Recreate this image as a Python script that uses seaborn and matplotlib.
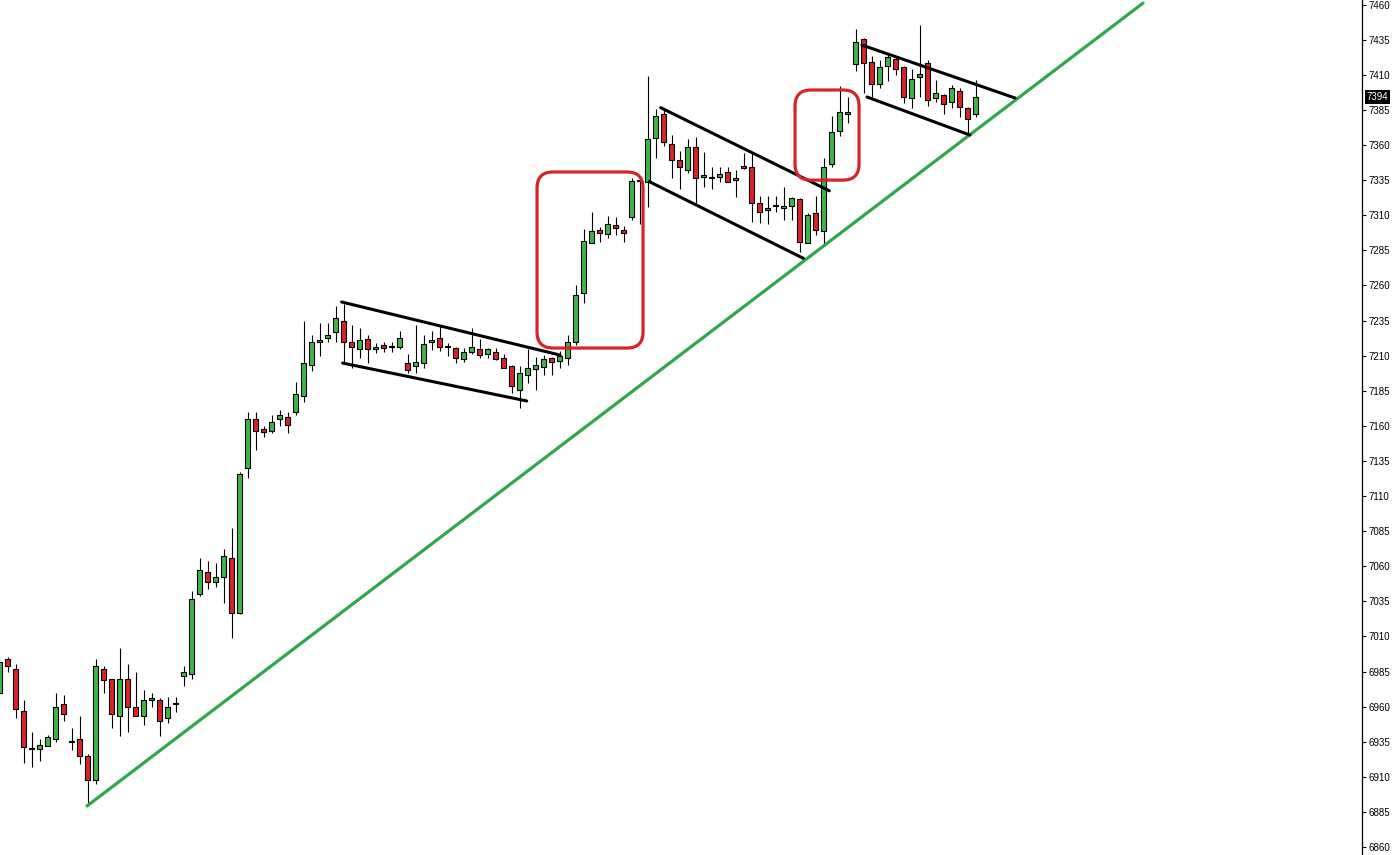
import matplotlib
matplotlib.use("Agg")
import matplotlib.pyplot as plt
import matplotlib.transforms as mtransforms
from matplotlib.patches import FancyBboxPatch
import numpy as np
import pandas as pd
import seaborn as sns

# candle data, one value per bar
opens = [
    6970, 6994, 6987, 6957, 6930, 6930, 6932, 6937, 6962, 6935,
    6937, 6925, 6908, 6987, 6980, 6953, 6980, 6960, 6953, 6965,
    6965, 6952, 6962, 6982, 6983, 7040, 7056, 7049, 7052, 7066,
    7027, 7130, 7165, 7158, 7156, 7165, 7166, 7170, 7181, 7203,
    7220, 7222.5, 7227, 7235, 7220, 7215, 7222, 7214.7, 7217.5, 7216,
    7216, 7205, 7202.6, 7205, 7219.7, 7222.5, 7216, 7215.4, 7207.6, 7212.6,
    7215, 7211, 7212.6, 7208, 7202.6, 7185.5, 7196, 7200.5, 7202, 7208.3,
    7206.2, 7208.3, 7220, 7254.6, 7290, 7299.4, 7296.6, 7302.8, 7299.4, 7308.7,
    7334.4, 7334, 7365, 7382, 7361, 7349, 7342, 7358.6, 7337, 7336.5,
    7337, 7340.8, 7335, 7345, 7344, 7318.7, 7313.7, 7316.5, 7315, 7316.5,
    7321.5, 7290.2, 7311.6, 7298.7, 7346.5, 7370, 7382, 7417.7, 7435.5, 7419,
    7403.4, 7416.3, 7421.3, 7415.6, 7393.5, 7408.4, 7418.4, 7393.5, 7395.6, 7390.6,
    7398.5, 7386.4, 7382,
]
highs = [
    6995, 6995, 6990, 6965, 6942, 6937, 6940, 6970, 6968, 6945,
    6953, 6926, 6994, 6989, 6980, 7002, 6990, 6985, 6972, 6970,
    6966, 6967, 6967, 6989, 7042, 7066, 7064, 7062, 7072, 7087,
    7127, 7170, 7170, 7160, 7168, 7171, 7170, 7191, 7235, 7225,
    7233, 7233, 7245, 7247, 7232, 7230, 7225, 7219, 7219.6, 7219.6,
    7227.5, 7211, 7232, 7225, 7227.5, 7232, 7219, 7216, 7215.4, 7230,
    7222, 7215.4, 7215.4, 7211, 7203, 7202.6, 7215, 7209, 7210.4, 7209,
    7213, 7225, 7260, 7300, 7312, 7301.6, 7309.5, 7309, 7302, 7336.5,
    7336, 7409, 7386, 7386, 7367, 7356, 7364, 7366, 7355, 7344,
    7344, 7344, 7342, 7354, 7354, 7323.7, 7323.7, 7324, 7330, 7323,
    7322, 7311.5, 7323.7, 7351, 7381, 7402, 7394, 7443, 7436, 7423.4,
    7420.5, 7425.5, 7423, 7416, 7414, 7445.5, 7420.5, 7406, 7396, 7402.7,
    7400.6, 7387, 7406,
]
lows = [
    6968, 6985, 6952, 6920, 6917, 6921, 6932, 6935, 6950, 6929,
    6919, 6889, 6905, 6970, 6945, 6939, 6942, 6953, 6947, 6960,
    6939, 6948, 6956, 6975, 6980, 7039, 7044, 7045, 7034, 7009,
    7026, 7123, 7143, 7152, 7155, 7160, 7155, 7168, 7177, 7199,
    7210, 7220, 7220, 7204, 7201, 7208, 7205, 7212, 7212.6, 7212.6,
    7214.7, 7197.6, 7197.6, 7201, 7214, 7213, 7209.7, 7205, 7205.4, 7211,
    7208, 7208.3, 7207, 7201, 7183.4, 7172.7, 7190.5, 7185.5, 7196, 7196,
    7201, 7203, 7217.5, 7247.5, 7290, 7291, 7293.8, 7296, 7291, 7306.6,
    7304, 7316, 7351, 7359, 7336.5, 7329, 7340, 7318.7, 7330, 7329,
    7334, 7333.7, 7323, 7343, 7305, 7304.4, 7303.7, 7312, 7306.6, 7306.6,
    7284, 7290, 7296, 7288.8, 7344.3, 7366.4, 7375.6, 7412.7, 7397, 7394,
    7400.6, 7405.5, 7410, 7390, 7386.4, 7394, 7387.8, 7390.6, 7382, 7386.4,
    7380, 7368.6, 7380,
]
closes = [
    6992, 6989, 6958, 6931, 6930.5, 6933, 6938, 6960, 6955, 6935.5,
    6925, 6908, 6989, 6979, 6955, 6980, 6960, 6953, 6965, 6965,
    6950, 6960, 6962, 6985, 7037, 7057, 7049, 7052, 7067, 7027,
    7126, 7165, 7156, 7155.5, 7163, 7168, 7160.5, 7183, 7205, 7220,
    7220.5, 7225, 7237, 7220, 7216, 7221, 7215, 7216, 7215.4, 7216,
    7222.5, 7200, 7205.4, 7218, 7221, 7216, 7216, 7208.3, 7212.6, 7216,
    7210.4, 7214.7, 7207.6, 7201, 7188.4, 7197.6, 7201, 7203.3, 7207.6, 7205.4,
    7209.7, 7219.7, 7253, 7291.6, 7298.7, 7297.3, 7303.7, 7300.7, 7297.3, 7334.4,
    7335, 7364, 7381, 7362, 7349, 7344, 7358.6, 7336.5, 7338.6, 7336.5,
    7339.4, 7333.7, 7336.5, 7343.6, 7319, 7312.3, 7315, 7316.5, 7316.5, 7322.3,
    7291, 7310, 7299.4, 7344.3, 7369.3, 7383.5, 7383.5, 7433.3, 7418.4, 7403.4,
    7415.6, 7422.7, 7414.2, 7394, 7407, 7410.5, 7392, 7397, 7389, 7400.6,
    7387, 7378.6, 7394,
]

# hand-drawn annotations: (bar index, price) end points
trend_x = [10.94, 142.94]
trend_y = [6889.2, 7461.1]
channel_x = [
    [42.77, 70.06], [42.90, 65.90],
    [82.65, 103.73], [81.23, 100.48],
    [107.81, 126.94], [108.44, 121.31],
]
channel_y = [
    [7248.2, 7210.4], [7204.7, 7177.7],
    [7386.6, 7327.4], [7333.9, 7279.3],
    [7431.2, 7393.5], [7394.2, 7367.1],
]
# highlight boxes: (left bar, right bar, low price, high price)
box_left = [67.19, 99.44]
box_right = [80.44, 107.44]
box_low = [7215.4, 7335.0]
box_high = [7340.8, 7399.2]

price_ticks = list(range(6860, 7461, 25))

GREEN = "#3fb549"
RED = "#d8232a"

df = pd.DataFrame({"open": opens, "high": highs, "low": lows, "close": closes})
df["idx"] = np.arange(len(df))
df["up"] = df["close"] >= df["open"]

sns.set_style("white")
plt.rcParams["font.family"] = ["Liberation Sans", "DejaVu Sans"]

fig = plt.figure(figsize=(13.97, 8.55), dpi=100)
ax = fig.add_axes([0, 0, 1362 / 1397, 1])

# wicks
ax.vlines(df["idx"], df["low"], df["high"], color="black", linewidth=0.8, zorder=2)

# bodies
body_bottom = np.minimum(df["open"], df["close"])
body_height = np.maximum((df["close"] - df["open"]).abs(), 0.8)
colors = [GREEN if u else RED for u in df["up"]]
ax.bar(df["idx"], body_height, bottom=body_bottom, width=0.58,
       color=colors, edgecolor="black", linewidth=0.8, zorder=3)

# trend line and channels
sns.lineplot(x=trend_x, y=trend_y, ax=ax, color="#2ea84a", linewidth=2.3, zorder=4)
for cx, cy in zip(channel_x, channel_y):
    sns.lineplot(x=cx, y=cy, ax=ax, color="black", linewidth=2.2, zorder=5)

# red rounded boxes
for x0, x1, y0, y1 in zip(box_left, box_right, box_low, box_high):
    box = FancyBboxPatch((x0, y0), x1 - x0, y1 - y0,
                         boxstyle="round,pad=0,rounding_size=2.0",
                         mutation_aspect=8 / 1.404,
                         facecolor="none", edgecolor=RED, linewidth=2.3, zorder=6)
    ax.add_patch(box)

ax.set_xlim(0.0625, 170.31)
ax.set_ylim(6854.3, 7463.3)

for side in ["left", "top", "bottom"]:
    ax.spines[side].set_visible(False)
ax.spines["right"].set_color("black")
ax.spines["right"].set_linewidth(0.9)

ax.set_xticks([])
ax.yaxis.tick_right()
ax.set_yticks(price_ticks)
ax.set_yticklabels([str(t) for t in price_ticks])
ax.tick_params(axis="y", direction="out", length=3, width=0.8, pad=2,
               labelsize=7, colors="black")
ax.set_xlabel("")
ax.set_ylabel("")

# last price marker on the axis
trans = mtransforms.blended_transform_factory(ax.transAxes, ax.transData)
ax.text(1.0035, closes[-1], f"{closes[-1]:.0f}", transform=trans,
        ha="left", va="center", fontsize=7, color="white",
        bbox=dict(boxstyle="square,pad=0.2", facecolor="black", edgecolor="none"),
        clip_on=False, zorder=10)

fig.savefig("out.png", dpi=100)
plt.close(fig)
